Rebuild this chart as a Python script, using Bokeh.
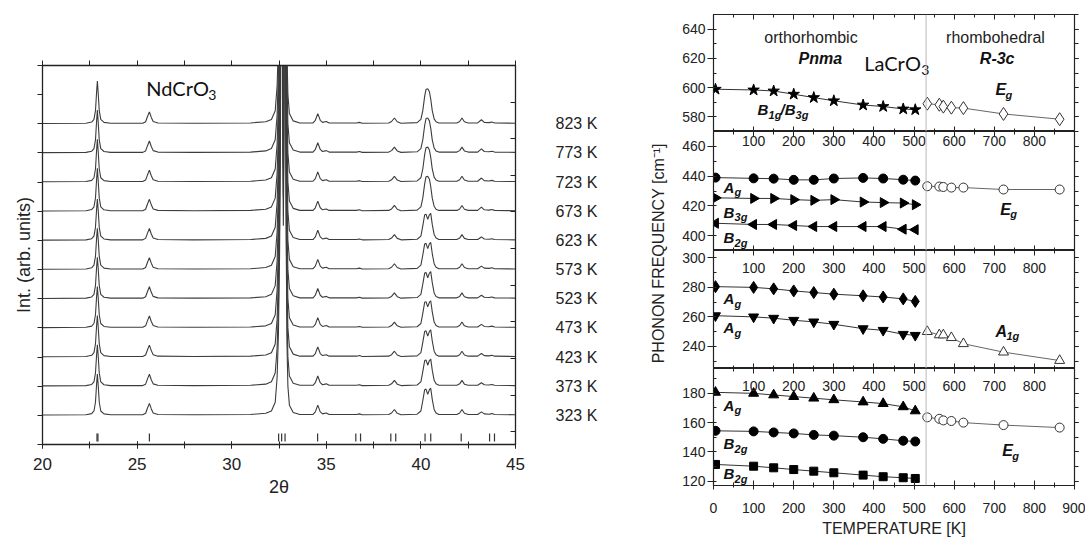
import math
from bokeh.plotting import figure
from bokeh.layouts import row, column
from bokeh.models import Range1d, LinearAxis, FixedTicker, SingleIntervalTicker, Span
from bokeh.core.properties import value
from bokeh.embed import file_html
from bokeh.resources import INLINE

temps_K = [323, 373, 423, 473, 523, 573, 623, 673, 723, 773, 823]
trace_offsets = [1, 2, 3, 4, 5, 6, 7, 8, 9, 10, 11]
trace_profile = ["split"] * 7 + ["single"] * 4

xrd_x = [20.0, 22.3, 22.6, 22.72, 22.8, 22.86, 22.9, 22.94, 23.0, 23.08, 23.25, 23.6,
         25.3, 25.45, 25.55, 25.65, 25.75, 25.85, 26.1, 28.0, 31.0, 31.8, 32.1, 32.3,
         32.4, 32.47, 32.53, 32.58, 32.62, 32.64, 32.67, 32.7, 32.73, 32.76, 32.79, 32.82,
         32.85, 32.88, 32.92, 32.97, 33.05, 33.25, 33.6,
         34.3, 34.42, 34.55, 34.68, 34.8, 35.0, 35.15, 36.6, 36.75, 36.9,
         38.3, 38.45, 38.6, 38.75, 38.95,
         39.8, 40.0, 40.1, 40.2, 40.27, 40.36, 40.45, 40.52, 40.6, 40.7, 40.8, 40.95,
         41.9, 42.05, 42.17, 42.3, 42.5, 43.0, 43.2, 43.35, 43.6, 43.75, 43.9, 45.0]
xrd_single = [0.01, 0.02, 0.06, 0.15, 0.45, 1.1, 1.47, 1.1, 0.45, 0.15, 0.05, 0.02,
              0.02, 0.07, 0.25, 0.41, 0.22, 0.08, 0.03, 0.02, 0.03, 0.07, 0.15, 0.45,
              1.3, 2.8, 5.5, 10.0, 20.0, 30.0, 18.0, 9.0, 6.5, 9.0, 18.0, 30.0,
              16.0, 6.0, 2.5, 1.0, 0.35, 0.1, 0.03,
              0.03, 0.12, 0.35, 0.12, 0.05, 0.08, 0.03, 0.03, 0.05, 0.02,
              0.03, 0.08, 0.2, 0.07, 0.02,
              0.04, 0.15, 0.45, 0.95, 1.18, 1.2, 1.1, 0.85, 0.45, 0.17, 0.07, 0.03,
              0.03, 0.08, 0.2, 0.07, 0.03, 0.03, 0.14, 0.05, 0.04, 0.06, 0.03, 0.02]
xrd_split = [0.01, 0.02, 0.06, 0.15, 0.45, 1.08, 1.42, 1.08, 0.45, 0.15, 0.05, 0.02,
             0.02, 0.07, 0.25, 0.41, 0.22, 0.08, 0.03, 0.02, 0.03, 0.07, 0.15, 0.45,
             1.3, 2.8, 5.5, 10.0, 20.0, 30.0, 18.0, 9.0, 6.5, 9.0, 18.0, 30.0,
             16.0, 6.0, 2.5, 1.0, 0.35, 0.1, 0.03,
             0.03, 0.12, 0.35, 0.12, 0.05, 0.08, 0.03, 0.03, 0.05, 0.02,
             0.03, 0.08, 0.2, 0.07, 0.02,
             0.04, 0.15, 0.5, 0.88, 0.9, 0.72, 0.88, 0.93, 0.55, 0.2, 0.08, 0.03,
             0.03, 0.08, 0.2, 0.07, 0.03, 0.03, 0.12, 0.05, 0.04, 0.06, 0.03, 0.02]
bragg_2theta = [22.88, 22.93, 25.65, 32.48, 32.64, 32.82, 34.54, 36.56, 36.81,
                38.41, 38.67, 40.22, 40.52, 42.13, 43.63, 43.89]

# ---------------- Right panel data: LaCrO3 phonon frequencies ----------------
T_transition = 530
T_ortho = [5, 100, 150, 200, 250, 300, 373, 423, 473, 503]
T_rhombo = [533, 563, 573, 593, 623, 723, 863]
B1g_B3g = [598.9, 598.4, 597.7, 595.5, 593.2, 591.0, 588.1, 587.1, 585.4, 584.9]
Eg_high = [589.0, 588.3, 587.0, 586.3, 586.0, 582.0, 578.4]
Ag_438 = [439.0, 438.5, 438.3, 437.5, 437.5, 438.4, 438.8, 438.4, 437.6, 437.0]
B3g_424 = [425.4, 425.0, 425.0, 424.2, 423.7, 424.2, 422.6, 422.2, 421.9, 420.8]
B2g_406 = [408.3, 407.5, 407.5, 406.8, 406.1, 406.1, 406.1, 406.1, 404.3, 404.0]
Eg_432 = [433.2, 433.0, 432.7, 432.3, 432.3, 431.0, 431.0]
Ag_276 = [280.5, 280.0, 279.0, 277.6, 276.5, 275.4, 274.3, 273.5, 272.2, 270.5]
Ag_255 = [260.8, 260.0, 259.1, 257.7, 256.6, 255.0, 252.0, 250.9, 248.2, 247.5]
A1g_242 = [250.0, 247.8, 247.7, 245.9, 241.8, 236.1, 230.4]
Ag_175 = [180.7, 180.0, 178.9, 177.8, 176.7, 175.6, 174.1, 173.0, 170.8, 168.0]
Eg_160 = [163.6, 162.6, 161.5, 161.1, 160.0, 158.3, 156.6]
B2g_151 = [154.4, 154.0, 153.3, 152.6, 151.6, 151.1, 150.0, 148.9, 147.6, 147.1]
B2g_126 = [131.4, 130.2, 129.1, 127.9, 126.8, 125.7, 124.1, 123.0, 122.3, 121.8]
T_ticks_inner = [100, 200, 300, 400, 500, 600, 700, 800]

FONT = value("Liberation Sans")
INK = "#222222"


def hide_labels(ax):
    ax.major_label_text_font_size = "1px"
    ax.major_label_text_color = None
    ax.major_label_standoff = 0


# ======================= LEFT FIGURE =======================
left = figure(width=600, height=539, x_range=Range1d(20, 45), y_range=Range1d(0, 13),
              output_backend="svg", toolbar_location=None,
              min_border_left=42, min_border_right=84, min_border_top=65, min_border_bottom=95)
left.grid.visible = False
left.outline_line_color = INK
left.outline_line_width = 1.3
left.extra_y_ranges = {"rt": Range1d(-0.35, 10)}

xa = left.xaxis[0]
xa.ticker = SingleIntervalTicker(interval=5, num_minor_ticks=2)
xa.major_tick_in = 3
xa.major_tick_out = 4
xa.minor_tick_in = 3
xa.minor_tick_out = 4
xa.major_label_text_font = "Liberation Sans"
xa.major_label_text_font_size = "17px"
xa.major_label_text_color = INK
xa.major_label_standoff = 9
xa.axis_label = "2θ"
xa.axis_label_text_font = "Liberation Sans"
xa.axis_label_text_font_size = "18px"
xa.axis_label_text_font_style = "normal"
xa.axis_label_text_color = INK
xa.axis_label_standoff = 4
xa.axis_line_color = INK
xa.major_tick_line_color = INK
xa.minor_tick_line_color = INK

ya = left.yaxis[0]
ya.ticker = FixedTicker(ticks=list(range(14)))
ya.major_tick_in = 0
ya.major_tick_out = 5
hide_labels(ya)
ya.axis_label = "Int. (arb. units)"
ya.axis_label_text_font = "Liberation Sans"
ya.axis_label_text_font_size = "18px"
ya.axis_label_text_font_style = "normal"
ya.axis_label_text_color = INK
ya.axis_label_standoff = 4
ya.axis_line_color = INK
ya.major_tick_line_color = INK

top_ax = LinearAxis(ticker=SingleIntervalTicker(interval=2.5, num_minor_ticks=0),
                    major_tick_in=0, major_tick_out=5, axis_line_color=INK,
                    major_tick_line_color=INK, minor_tick_line_color=None)
hide_labels(top_ax)
left.add_layout(top_ax, "above")

rt_ax = LinearAxis(y_range_name="rt", ticker=FixedTicker(ticks=list(range(11))),
                   major_tick_in=5, major_tick_out=0, axis_line_color=INK,
                   major_tick_line_color=INK, minor_tick_line_color=None)
hide_labels(rt_ax)
left.add_layout(rt_ax, "right")

lab_ax = LinearAxis(ticker=FixedTicker(ticks=trace_offsets),
                    major_label_overrides={o: f"{t} K" for o, t in zip(trace_offsets, temps_K)},
                    axis_line_color=None, major_tick_line_color=None, minor_tick_line_color=None,
                    major_tick_in=0, major_tick_out=0, major_label_standoff=40,
                    major_label_text_font="Liberation Sans", major_label_text_font_size="16px",
                    major_label_text_color=INK)
left.add_layout(lab_ax, "right")

for off, prof in zip(trace_offsets, trace_profile):
    ys = xrd_single if prof == "single" else xrd_split
    left.line(xrd_x, [off + v for v in ys], line_color="#3c3c3c", line_width=1.1)

left.segment(x0=bragg_2theta, y0=[0.1] * len(bragg_2theta), x1=bragg_2theta,
             y1=[0.38] * len(bragg_2theta), line_color="#333333", line_width=1.2)

left.text(x=[25.49], y=[12.22], text=["NdCrO"], text_font=value("Lato"),
          text_font_size="20px", text_align="left", text_baseline="middle", text_color="#111111")
left.text(x=[25.49], y=[12.22], text=["3"], text_font=value("Lato"), x_offset=62, y_offset=7,
          text_font_size="14px", text_align="left", text_baseline="middle", text_color="#111111")

# ======================= RIGHT LABEL STRIP =======================
lab = figure(width=72, height=539, x_range=Range1d(0, 1), y_range=Range1d(0, 539),
             output_backend="svg", toolbar_location=None, x_axis_location=None,
             y_axis_location=None, min_border=0)
lab.grid.visible = False
lab.outline_line_color = None
lab.text(x=[0.8], y=[272], text=["PHONON FREQUENCY [cm⁻¹]"], angle=math.pi / 2,
         text_font=FONT, text_font_size="16px", text_align="center",
         text_baseline="middle", text_color=INK)


# ======================= RIGHT PANELS =======================
def make_panel(yr, height, btop, bbot, last):
    p = figure(width=413, height=height, x_range=Range1d(0, 900), y_range=Range1d(*yr),
               output_backend="svg", toolbar_location=None,
               min_border_left=41, min_border_right=11, min_border_top=btop,
               min_border_bottom=bbot)
    p.grid.visible = False
    p.outline_line_color = INK
    p.outline_line_width = 1.2
    bx = p.xaxis[0]
    bx.ticker = SingleIntervalTicker(interval=100, num_minor_ticks=2)
    bx.major_tick_in = 5
    bx.minor_tick_in = 3
    bx.axis_line_color = INK
    bx.major_tick_line_color = INK
    bx.minor_tick_line_color = INK
    if last:
        bx.major_tick_out = 4
        bx.minor_tick_out = 2
        bx.major_label_text_font = "Liberation Sans"
        bx.major_label_text_font_size = "14px"
        bx.major_label_text_color = INK
        bx.major_label_standoff = 13
        bx.axis_label = "TEMPERATURE [K]"
        bx.axis_label_text_font = "Liberation Sans"
        bx.axis_label_text_font_size = "16px"
        bx.axis_label_text_font_style = "normal"
        bx.axis_label_text_color = INK
        bx.axis_label_standoff = 4
    else:
        bx.major_tick_out = 0
        bx.minor_tick_out = 0
        hide_labels(bx)
    ly = p.yaxis[0]
    ly.ticker = SingleIntervalTicker(interval=20, num_minor_ticks=2)
    ly.major_tick_out = 6
    ly.major_tick_in = 0
    ly.minor_tick_in = 3
    ly.minor_tick_out = 0
    ly.major_label_text_font = "Liberation Sans"
    ly.major_label_text_font_size = "14px"
    ly.major_label_text_color = INK
    ly.major_label_standoff = 2
    ly.axis_line_color = INK
    ly.major_tick_line_color = INK
    ly.minor_tick_line_color = INK
    ta = LinearAxis(ticker=SingleIntervalTicker(interval=100, num_minor_ticks=2),
                    major_tick_in=5, major_tick_out=0, minor_tick_in=3, minor_tick_out=0,
                    axis_line_color=INK, major_tick_line_color=INK, minor_tick_line_color=INK)
    hide_labels(ta)
    p.add_layout(ta, "above")
    ra = LinearAxis(ticker=SingleIntervalTicker(interval=20, num_minor_ticks=2),
                    major_tick_in=0, major_tick_out=4, minor_tick_in=0, minor_tick_out=4,
                    axis_line_color=INK, major_tick_line_color=INK, minor_tick_line_color=INK)
    hide_labels(ra)
    p.add_layout(ra, "right")
    p.add_layout(Span(location=T_transition, dimension="height", line_color="#b8b8b8",
                      line_width=1))
    return p


def series(p, xs, ys, marker, filled, size, angle=0.0):
    p.line(xs, ys, line_color="#333333" if filled else "#666666", line_width=1)
    p.scatter(xs, ys, marker=marker, size=size, angle=angle,
              fill_color="black" if filled else "white",
              line_color="black" if filled else "#333333", line_width=1)


def inner_xlabels(p, y):
    p.text(x=T_ticks_inner, y=[y] * len(T_ticks_inner), text=[str(t) for t in T_ticks_inner],
           text_font=FONT, text_font_size="14px", text_align="center",
           text_baseline="middle", text_color=INK)


def mode(p, x, y, pieces, size="15px", sub="11px"):
    for txt, dx, is_sub in pieces:
        p.text(x=[x], y=[y], text=[txt], x_offset=dx, y_offset=5 if is_sub else 0,
               text_font=FONT, text_font_size=sub if is_sub else size,
               text_font_style="bold italic", text_align="left", text_baseline="middle",
               text_color="#111111")


def plain(p, x, y, txt, size="16px"):
    p.text(x=[x], y=[y], text=[txt], text_font=FONT, text_font_size=size,
           text_align="center", text_baseline="middle", text_color=INK)


# Panel 1
p1 = make_panel((570, 650), 131, 14, 0, False)
series(p1, T_ortho, B1g_B3g, "star", True, 12)
series(p1, T_rhombo, Eg_high, "diamond", False, 13)
plain(p1, 243, 634, "orthorhombic")
mode(p1, 212, 620, [("Pnma", 0, False)], size="16px")
plain(p1, 703, 634, "rhombohedral")
mode(p1, 664, 620, [("R-3c", 0, False)], size="16px")
p1.text(x=[376], y=[616.5], text=["LaCrO"], text_font=value("Lato"), text_font_size="20px",
        text_align="left", text_baseline="middle", text_color="#111111")
p1.text(x=[376], y=[616.5], text=["3"], text_font=value("Lato"), text_font_size="14px",
        x_offset=57, y_offset=7, text_align="left", text_baseline="middle", text_color="#111111")
mode(p1, 703, 598.4, [("E", 0, False), ("g", 10, True)], size="16px")
mode(p1, 110, 585, [("B", 0, False), ("1g", 11, True), ("/B", 23, False), ("3g", 38, True)])

# Panel 2
p2 = make_panel((390, 470), 119, 0, 0, False)
series(p2, T_ortho, Ag_438, "circle", True, 9)
series(p2, T_ortho, B3g_424, "triangle", True, 10, -math.pi / 2)
series(p2, T_ortho, B2g_406, "triangle", True, 10, math.pi / 2)
series(p2, T_rhombo, Eg_432, "circle", False, 9)
inner_xlabels(p2, 463.5)
mode(p2, 25, 432.5, [("A", 0, False), ("g", 11, True)])
mode(p2, 25, 415.6, [("B", 0, False), ("3g", 11, True)])
mode(p2, 25, 398.6, [("B", 0, False), ("2g", 11, True)])
mode(p2, 715, 417.6, [("E", 0, False), ("g", 10, True)], size="16px")

# Panel 3
p3 = make_panel((225, 305), 118, 0, 0, False)
series(p3, T_ortho, Ag_276, "diamond", True, 12)
series(p3, T_ortho, Ag_255, "inverted_triangle", True, 10)
series(p3, T_rhombo, A1g_242, "triangle", False, 10)
inner_xlabels(p3, 293)
mode(p3, 25, 272.3, [("A", 0, False), ("g", 11, True)])
mode(p3, 25, 252.5, [("A", 0, False), ("g", 11, True)])
mode(p3, 703, 250.4, [("A", 0, False), ("1g", 11, True)], size="16px")

# Panel 4
p4 = make_panel((117, 197), 171, 0, 52, True)
series(p4, T_ortho, Ag_175, "triangle", True, 10)
series(p4, T_rhombo, Eg_160, "circle", False, 9)
series(p4, T_ortho, B2g_151, "circle", True, 9)
series(p4, T_ortho, B2g_126, "square", True, 8)
inner_xlabels(p4, 185)
mode(p4, 25, 172, [("A", 0, False), ("g", 11, True)])
mode(p4, 25, 145.5, [("B", 0, False), ("2g", 11, True)])
mode(p4, 25, 125.2, [("B", 0, False), ("2g", 11, True)])
mode(p4, 720, 140.9, [("E", 0, False), ("g", 10, True)], size="16px")

layout = row(left, lab, column(p1, p2, p3, p4))
open("out.html", "w").write(file_html(layout, INLINE))
